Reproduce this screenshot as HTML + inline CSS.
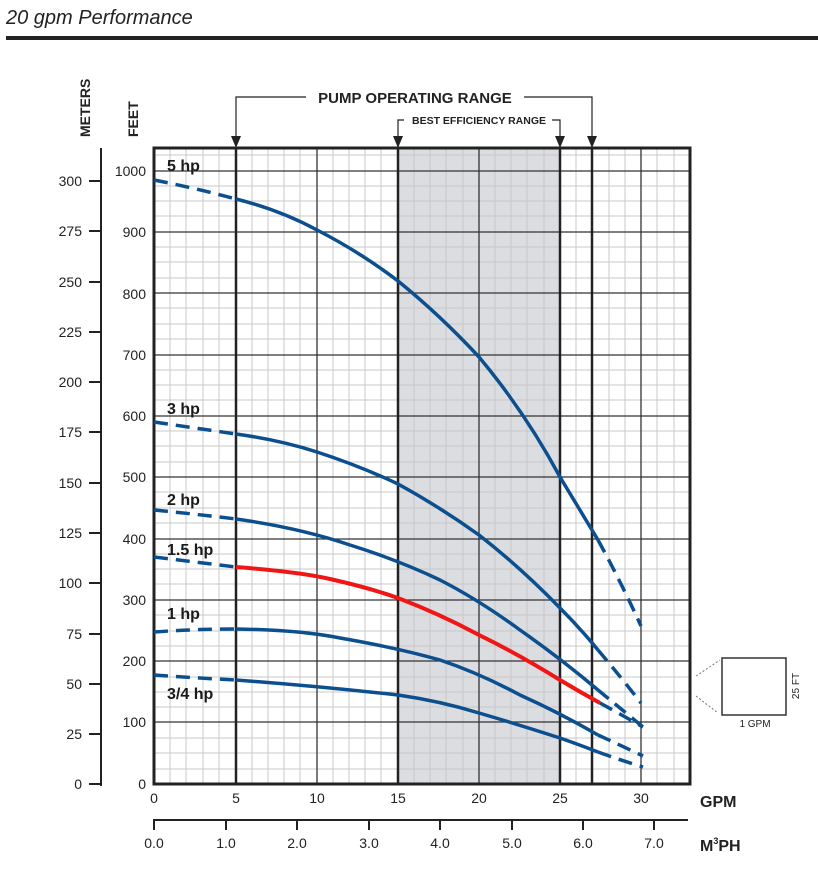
<!DOCTYPE html>
<html><head><meta charset="utf-8"><style>
body{margin:0;background:#fff;}
svg{display:block;font-family:"Liberation Sans",sans-serif;}
</style></head><body>
<svg width="818" height="883" viewBox="0 0 818 883" xmlns="http://www.w3.org/2000/svg">
<text x="6" y="24" font-size="20" font-style="italic" fill="#222">20 gpm Performance</text>
<rect x="6" y="36" width="812" height="4" fill="#222"/>

<!-- shaded -->
<rect x="398" y="148" width="162" height="636" fill="#dcdde0"/>
<!-- minor grid -->
<g stroke="#c8c8c8" stroke-width="1">
<path d="M170,148V784M186,148V784M203,148V784M219,148V784M252,148V784M268,148V784M284,148V784M300,148V784M333,148V784M349,148V784M365,148V784M381,148V784M414,148V784M430,148V784M446,148V784M463,148V784M495,148V784M511,148V784M527,148V784M544,148V784M576,148V784M609,148V784M625,148V784M657,148V784M674,148V784"/>
<path d="M154,769H690M154,753H690M154,738H690M154,707H690M154,692H690M154,677H690M154,646H690M154,631H690M154,615H690M154,584H690M154,569H690M154,554H690M154,523H690M154,508H690M154,492H690M154,462H690M154,446H690M154,431H690M154,400H690M154,385H690M154,370H690M154,339H690M154,324H690M154,308H690M154,278H690M154,262H690M154,247H690M154,216H690M154,201H690M154,186H690M154,155H690"/>
</g>
<!-- major grid -->
<g stroke="#333" stroke-width="1.3">
<path d="M154,722H690M154,661H690M154,600H690M154,539H690M154,477H690M154,416H690M154,355H690M154,293H690M154,232H690M154,171H690"/>
<path d="M317,148V784M479,148V784M641,148V784"/>
</g>
<g stroke="#222" stroke-width="2.5">
<path d="M236,148V784M398,148V784M560,148V784M592,148V784"/>
</g>
<rect x="154" y="148" width="536" height="636" fill="none" stroke="#222" stroke-width="3"/>

<!-- curves -->
<g fill="none" stroke="#0b4f8f" stroke-width="3.5" stroke-linecap="butt">
<path d="M154,180 Q195,188 236,199" stroke-dasharray="14,8"/>
<path d="M236,199 Q280,210 317,230 Q360,252 398,281 Q440,315 479,357 Q525,412 560,477 Q580,510 598,540"/>
<path d="M598,540 Q620,580 641,626" stroke-dasharray="14,8"/>

<path d="M154,422 Q195,428 236,434" stroke-dasharray="14,8"/>
<path d="M236,434 Q280,440 317,452 Q360,466 398,484 Q440,507 479,535 Q520,567 560,608 Q580,628 598,650"/>
<path d="M598,650 Q620,676 641,703" stroke-dasharray="14,8"/>

<path d="M154,510 Q195,514 236,519" stroke-dasharray="14,8"/>
<path d="M236,519 Q300,528 350,545 Q398,560 440,580 Q479,600 520,630 Q560,658 598,690"/>
<path d="M598,690 Q620,708 643,727" stroke-dasharray="14,8"/>

<path d="M154,557 Q195,562 236,567" stroke-dasharray="14,8"/>
<path d="M600,703 Q620,714 643,727" stroke-dasharray="14,8"/>

<path d="M154,632 Q195,629 236,629" stroke-dasharray="14,8"/>
<path d="M236,629 Q300,630 340,638 Q398,648 440,660 Q479,673 520,695 Q560,713 598,735"/>
<path d="M598,735 Q620,745 643,756" stroke-dasharray="14,8"/>

<path d="M154,675 Q195,678 236,680" stroke-dasharray="14,8"/>
<path d="M236,680 Q317,686 398,695 Q440,701 479,713 Q520,725 560,738 Q580,745 598,752"/>
<path d="M598,752 Q620,760 643,767" stroke-dasharray="14,8"/>
</g>
<path d="M236,567 Q300,572 330,579 Q370,588 398,598 Q440,614 479,635 Q520,655 560,680 Q580,692 600,703" fill="none" stroke="#f01616" stroke-width="4"/>

<g font-size="16" font-weight="bold" fill="#1a1a1a">
<text x="167" y="171">5 hp</text>
<text x="167" y="414">3 hp</text>
<text x="167" y="505">2 hp</text>
<text x="167" y="555">1.5 hp</text>
<text x="167" y="619">1 hp</text>
<text x="167" y="699">3/4 hp</text>
</g>

<!-- range annotations -->
<g stroke="#222" stroke-width="1.2" fill="none">
<path d="M236,140V97H306M524,97H592V140"/>
<path d="M398,140V120H404M552,120H560V140"/>
</g>
<g fill="#222">
<path d="M231,136L241,136L236,148Z"/><path d="M587,136L597,136L592,148Z"/>
<path d="M393,136L403,136L398,148Z"/><path d="M555,136L565,136L560,148Z"/>
</g>
<text x="415" y="103" font-size="15" font-weight="bold" text-anchor="middle" fill="#222">PUMP OPERATING RANGE</text>
<text x="479" y="124" font-size="10.5" font-weight="bold" text-anchor="middle" fill="#222">BEST EFFICIENCY RANGE</text>

<!-- left axes -->
<text transform="translate(90,137) rotate(-90)" font-size="14" font-weight="bold" fill="#222">METERS</text>
<text transform="translate(138,137) rotate(-90)" font-size="14" font-weight="bold" fill="#222">FEET</text>
<line x1="101" y1="148" x2="101" y2="786" stroke="#222" stroke-width="2"/>
<g stroke="#222" stroke-width="2">
<path d="M89,181H101M89,231H101M89,282H101M89,332H101M89,382H101M89,432H101M89,483H101M89,533H101M89,583H101M89,634H101M89,684H101M89,734H101M89,784H101"/>
</g>
<g font-size="14" fill="#222" text-anchor="end">
<text x="82" y="186">300</text><text x="82" y="236">275</text><text x="82" y="287">250</text><text x="82" y="337">225</text><text x="82" y="387">200</text><text x="82" y="437">175</text><text x="82" y="488">150</text><text x="82" y="538">125</text><text x="82" y="588">100</text><text x="82" y="639">75</text><text x="82" y="689">50</text><text x="82" y="739">25</text><text x="82" y="789">0</text>
<text x="146" y="176">1000</text><text x="146" y="237">900</text><text x="146" y="299">800</text><text x="146" y="360">700</text><text x="146" y="421">600</text><text x="146" y="482">500</text><text x="146" y="544">400</text><text x="146" y="605">300</text><text x="146" y="666">200</text><text x="146" y="727">100</text><text x="146" y="789">0</text>
</g>

<!-- bottom axes -->
<g font-size="14" fill="#222" text-anchor="middle">
<text x="154" y="803">0</text><text x="236" y="803">5</text><text x="317" y="803">10</text><text x="398" y="803">15</text><text x="479" y="803">20</text><text x="560" y="803">25</text><text x="641" y="803">30</text>
<text x="154" y="848">0.0</text><text x="226" y="848">1.0</text><text x="297" y="848">2.0</text><text x="369" y="848">3.0</text><text x="440" y="848">4.0</text><text x="512" y="848">5.0</text><text x="583" y="848">6.0</text><text x="654" y="848">7.0</text>
</g>
<text x="700" y="807" font-size="16" font-weight="bold" fill="#222">GPM</text>
<text x="700" y="851" font-size="16" font-weight="bold" fill="#222">M<tspan font-size="9" dy="-7">3</tspan><tspan dy="7">PH</tspan></text>
<line x1="154" y1="820" x2="688" y2="820" stroke="#222" stroke-width="2"/>
<g stroke="#222" stroke-width="2">
<path d="M154,819V830M226,819V830M297,819V830M369,819V830M440,819V830M512,819V830M583,819V830M654,819V830"/>
</g>

<!-- scale box -->
<rect x="722" y="658" width="64" height="57" fill="#fff" stroke="#333" stroke-width="1.5"/>
<g stroke="#777" stroke-width="1" stroke-dasharray="2,2"><path d="M696,676L720,660M696,696L718,713"/></g>
<text x="755" y="727" font-size="10" text-anchor="middle" fill="#222">1 GPM</text>
<text transform="translate(799,686) rotate(-90)" font-size="10" text-anchor="middle" fill="#222">25 FT</text>
</svg>
</body></html>
